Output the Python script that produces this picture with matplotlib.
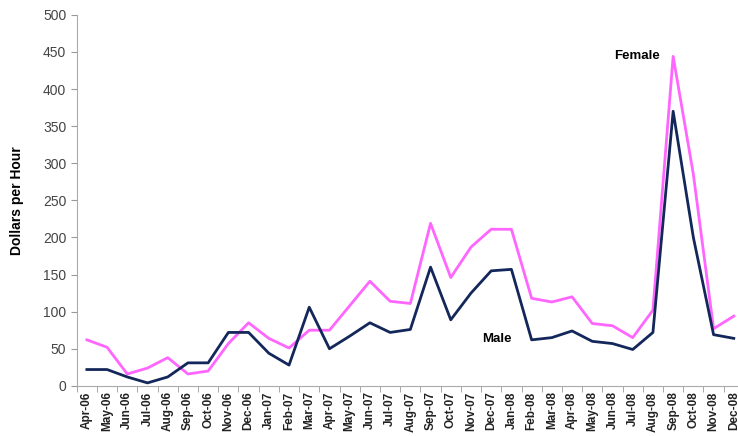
import matplotlib.pyplot as plt

plt.rcParams['font.family'] = ['Liberation Sans Narrow', 'Liberation Sans', 'DejaVu Sans']

months = ['Apr-06', 'May-06', 'Jun-06', 'Jul-06', 'Aug-06', 'Sep-06', 'Oct-06', 'Nov-06',
          'Dec-06', 'Jan-07', 'Feb-07', 'Mar-07', 'Apr-07', 'May-07', 'Jun-07', 'Jul-07',
          'Aug-07', 'Sep-07', 'Oct-07', 'Nov-07', 'Dec-07', 'Jan-08', 'Feb-08', 'Mar-08',
          'Apr-08', 'May-08', 'Jun-08', 'Jul-08', 'Aug-08', 'Sep-08', 'Oct-08', 'Nov-08',
          'Dec-08']

female = [62, 52, 16, 24, 38, 16, 20, 57, 85, 64, 51, 75, 75, 108, 141, 114,
          111, 219, 146, 187, 211, 211, 118, 113, 120, 84, 81, 65, 102, 444, 285, 77, 94]

male = [22, 22, 12, 4, 12, 31, 31, 72, 72, 44, 28, 106, 50, 67, 85, 72,
        76, 160, 89, 125, 155, 157, 62, 65, 74, 60, 57, 49, 72, 370, 200, 69, 64]

fig = plt.figure(figsize=(7.38, 4.36), dpi=100)
ax = fig.add_axes([0.104, 0.115, 0.904, 0.851])

x = list(range(len(months)))
ax.plot(x, female, color='#ff66ff', lw=2)
ax.plot(x, male, color='#14275a', lw=2)

ax.set_xlim(-0.5, len(months) - 0.5)
ax.set_ylim(0, 500)
ax.set_yticks(range(0, 501, 50))
ax.set_xticks(x)
ax.set_xticklabels(months, rotation=90, fontsize=8.5, fontweight='bold', color='#222222')
ax.set_xticks([i - 0.5 for i in range(len(months) + 1)], minor=True)
ax.tick_params(axis='x', which='major', length=0, pad=4)
ax.tick_params(axis='x', which='minor', length=4, color='#999999', direction='out')
ax.tick_params(axis='y', labelsize=10, labelcolor='#444444', length=4, color='#999999')

for s in ['top', 'right']:
    ax.spines[s].set_visible(False)
for s in ['left', 'bottom']:
    ax.spines[s].set_color('#aaaaaa')

ax.set_ylabel('Dollars per Hour', fontsize=10, fontweight='bold', labelpad=14)

ax.text(27.2, 445, 'Female', fontsize=9.5, fontweight='bold', ha='center', va='center')
ax.text(20.3, 63, 'Male', fontsize=9.5, fontweight='bold', ha='center', va='center')

fig.savefig('out.png', dpi=100)
